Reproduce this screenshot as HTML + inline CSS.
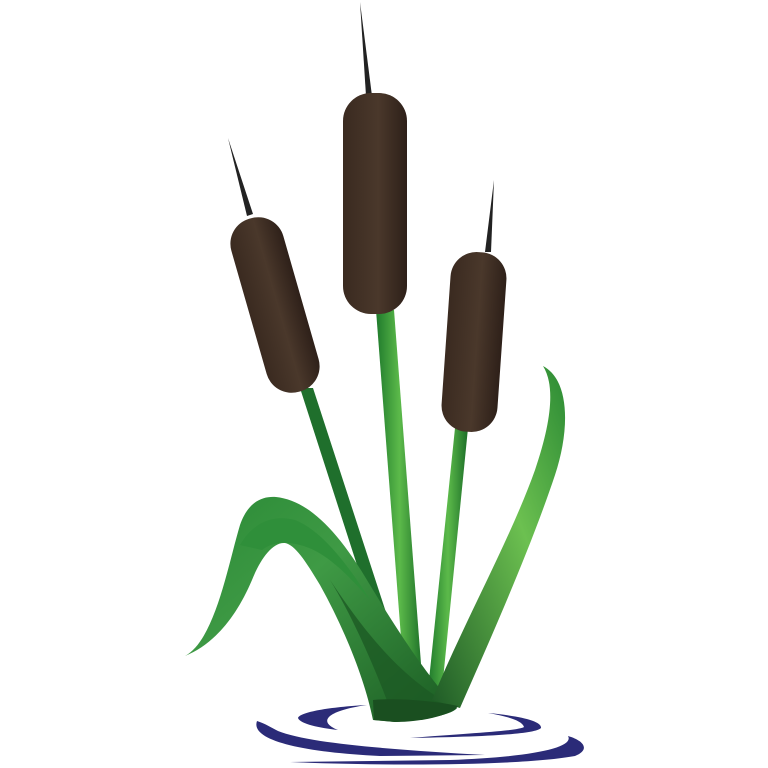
<!DOCTYPE html>
<html><head><meta charset="utf-8"><style>html,body{margin:0;padding:0;background:#fff}svg{display:block}</style></head>
<body>
<svg width="768" height="768" viewBox="0 0 768 768">
<defs>
<linearGradient id="head" x1="0" y1="0" x2="1" y2="0"><stop offset="0" stop-color="#3a2a20"/><stop offset="0.55" stop-color="#4a382b"/><stop offset="1" stop-color="#2e2019"/></linearGradient>
<linearGradient id="stem" x1="0" y1="0" x2="1" y2="0"><stop offset="0" stop-color="#1f7a2c"/><stop offset="0.5" stop-color="#5cba4a"/><stop offset="1" stop-color="#1c6e28"/></linearGradient>
<linearGradient id="leafL" x1="0" y1="0" x2="1" y2="1"><stop offset="0" stop-color="#2a8a36"/><stop offset="0.4" stop-color="#3f9a45"/><stop offset="1" stop-color="#1a5a22"/></linearGradient>
<linearGradient id="leafR" x1="0" y1="1" x2="1" y2="0"><stop offset="0" stop-color="#1e5a26"/><stop offset="0.6" stop-color="#6cc050"/><stop offset="1" stop-color="#2b8a34"/></linearGradient>
</defs>
<g fill="#2b2b78">
<path d="M367,705 C330,707 300,712 298,718 C300,724 320,728 338,730 C318,722 325,711 367,705 Z"/>
<path d="M488,713 C520,716 542,721 541,728 C535,735 470,737 410,738 C470,733 518,731 524,727 C522,720 505,716 488,713 Z"/>
<path d="M257,721 C250,740 300,752 380,756 L485,755 C400,750 310,744 278,731 C270,727 266,724 257,721 Z"/>
<path d="M568,736 C575,748 530,757 450,760 L290,762 C380,766 520,766 575,756 C590,750 585,741 568,736 Z"/>
</g>
<g fill="#222">
<polygon points="228,138 253,214 247,216"/>
<polygon points="360,2 372,96 366,96"/>
<polygon points="494,180 491,252 485,252"/>
</g>
<g>
<path d="M300,388 L313,388 L408,680 L394,680 Z" fill="#1f6f2c"/>
<path d="M376,310 L394,310 L423,690 L405,690 Z" fill="url(#stem)"/>
<path d="M455,428 L468,428 L442,690 L428,690 Z" fill="url(#stem)"/>
</g>
<path d="M185,656 C215,640 228,565 240,525 C248,502 262,496 276,497 C305,500 335,525 370,585 C400,635 430,680 457,708 C450,716 420,720 395,722 L373,720 C365,680 345,630 320,585 C305,560 295,545 285,543 C272,542 260,560 252,580 C235,620 212,645 185,656 Z" fill="url(#leafL)"/>
<path d="M240,545 C255,520 275,515 295,520 C320,530 345,560 370,600 C340,565 320,550 300,545 C285,541 272,542 262,550 Z" fill="#2f8f3a"/>
<path d="M330,580 C360,625 400,680 457,708 C450,716 420,720 395,722 C380,680 355,620 330,580 Z" fill="#1d5a24" opacity="0.8"/>
<path d="M543,366 C570,380 570,430 555,475 C530,550 490,640 460,708 L432,700 C465,620 510,540 535,470 C552,420 555,385 543,366 Z" fill="url(#leafR)"/>
<path d="M373,700 C395,698 430,700 458,706 C450,716 420,722 395,722 L374,720 Z" fill="#1a4f20"/>
<g>
<rect x="-27" y="-90" width="54" height="180" rx="26" fill="url(#head)" transform="translate(275,305) rotate(-16)"/>
<rect x="343" y="93" width="64" height="221" rx="28" fill="url(#head)"/>
<rect x="-28" y="-90" width="56" height="180" rx="26" fill="url(#head)" transform="translate(474,342) rotate(4)"/>
</g>
</svg>
</body></html>
